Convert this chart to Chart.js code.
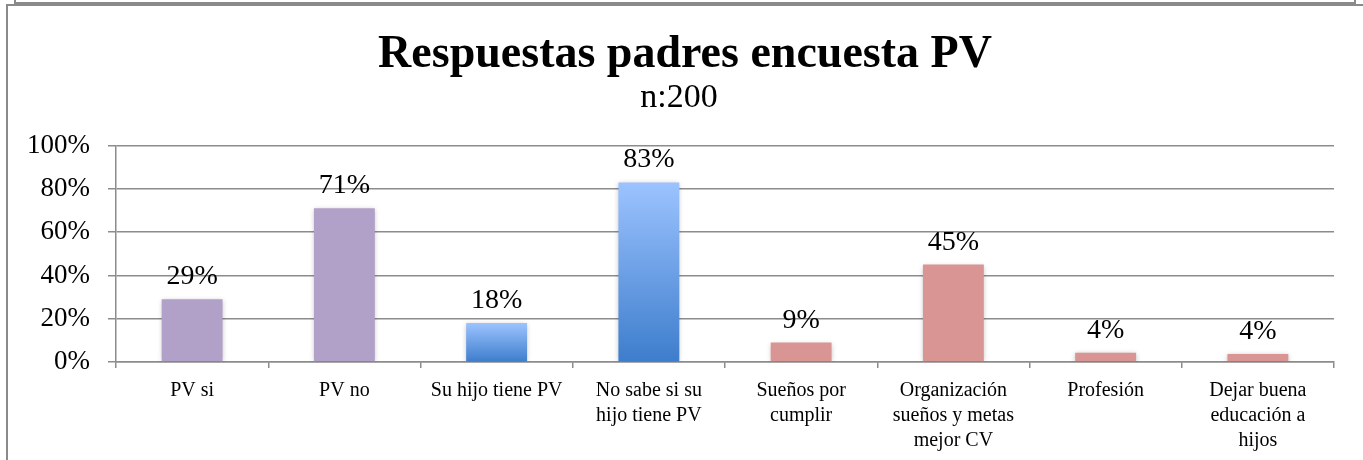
<!DOCTYPE html>
<html>
<head>
<meta charset="utf-8">
<script src="https://cdn.jsdelivr.net/npm/chart.js@4/dist/chart.umd.min.js"></script>
<style>
  html, body { margin: 0; padding: 0; background: #fff; }
  body { width: 1363px; height: 460px; position: relative; overflow: hidden; }
  .prevBox { position: absolute; left: 14px; top: -20px; width: 1338px; height: 20px;
             border: 2px solid #8a8a8a; }
  .frame { position: absolute; left: 6px; top: 4px; width: 1400px; height: 500px;
           border-left: 2px solid #8a8a8a; border-top: 2px solid #8a8a8a; }
  #chartPV { position: absolute; left: 0; top: 0; }
</style>
</head>
<body>
<div class="prevBox"></div>
<div class="frame"></div>
<canvas id="chartPV" width="1363" height="460"></canvas>
<script>
// Data
const categories = [
  'PV si',
  'PV no',
  'Su hijo tiene PV',
  ['No sabe si su', 'hijo tiene PV'],
  ['Sueños por', 'cumplir'],
  ['Organización', 'sueños y metas', 'mejor CV'],
  'Profesión',
  ['Dejar buena', 'educación a', 'hijos']
];
const values = [29, 71, 18, 83, 9, 45, 4.3, 3.7];     // percent
const groups = ['purple', 'purple', 'blue', 'blue', 'pink', 'pink', 'pink', 'pink'];
const yTicks = [0, 20, 40, 60, 80, 100];

const gridColor = '#8c8c8c',
      purple = '#b1a0c7',
      pink = '#d99594',
      blueTop = '#9cc3ff',
      blueBottom = '#3d7dcc',
      fontFam = "'Liberation Serif', 'DejaVu Serif', serif";

// Bar colour: blue bars get a vertical gradient over their own height
function barColor(ctx) {
  const g = groups[ctx.dataIndex];
  if (g === 'purple') return purple;
  if (g === 'pink') return pink;
  const chart = ctx.chart;
  if (!chart.chartArea) return blueBottom;
  const y = chart.scales.y;
  const top = y.getPixelForValue(values[ctx.dataIndex]);
  const base = y.getPixelForValue(0);
  const grad = chart.ctx.createLinearGradient(0, top, 0, base);
  grad.addColorStop(0, blueTop);
  grad.addColorStop(1, blueBottom);
  return grad;
}

// Soft shadow under the bars
const barShadow = {
  id: 'barShadow',
  beforeDatasetsDraw(chart) {
    const c = chart.ctx;
    c.save();
    c.shadowColor = 'rgba(0,0,0,0.25)';
    c.shadowBlur = 5;
    c.shadowOffsetX = 0;
    c.shadowOffsetY = 1;
  },
  afterDatasetsDraw(chart) {
    chart.ctx.restore();
  }
};

// Title sits a little right of the page centre in the original
const titleShift = {
  id: 'titleShift',
  afterLayout(chart) {
    if (chart.titleBlock) chart.titleBlock.left += 12;
  }
};

// Percent labels over each bar
const valueLabels = {
  id: 'valueLabels',
  afterDatasetsDraw(chart) {
    const c = chart.ctx;
    const meta = chart.getDatasetMeta(0);
    c.save();
    c.font = "28px " + fontFam;
    c.fillStyle = '#000';
    c.textAlign = 'center';
    c.textBaseline = 'alphabetic';
    meta.data.forEach((bar, i) => {
      c.fillText(Math.round(values[i]) + '%', bar.x, bar.y - 15);
    });
    c.restore();
  }
};

new Chart(document.getElementById('chartPV'), {
  type: 'bar',
  data: {
    labels: categories,
    datasets: [{
      data: values,
      backgroundColor: barColor,
      borderWidth: 0,
      categoryPercentage: 0.8,
      barPercentage: 0.5
    }]
  },
  plugins: [barShadow, valueLabels, titleShift],
  options: {
    responsive: false,
    animation: false,
    devicePixelRatio: 1,
    layout: { padding: { left: 24, right: 29, top: 0, bottom: 0 } },
    plugins: {
      legend: { display: false },
      tooltip: { enabled: false },
      title: {
        display: true,
        text: 'Respuestas padres encuesta PV',
        color: '#000',
        font: { family: fontFam, size: 46, weight: 'bold', lineHeight: 1.1 },
        padding: { top: 30, bottom: 0 }
      },
      subtitle: {
        display: true,
        text: 'n:200',
        color: '#000',
        font: { family: fontFam, size: 34, lineHeight: 1.0 },
        padding: { top: 0, bottom: 31 }
      }
    },
    scales: {
      y: {
        min: 0,
        max: 100,
        afterBuildTicks(axis) { axis.ticks = yTicks.map(v => ({ value: v })); },
        afterFit(scale) { scale.width = 92; },
        ticks: {
          color: '#000',
          padding: 18,
          font: { family: fontFam, size: 27 },
          callback: v => v + '%'
        },
        grid: { color: gridColor, lineWidth: 1.5, tickLength: 8 },
        border: { display: true, color: gridColor, width: 1.5 }
      },
      x: {
        afterFit(scale) { scale.height = 98; },
        ticks: {
          color: '#000',
          padding: 10,
          autoSkip: false,
          maxRotation: 0,
          font: { family: fontFam, size: 20, lineHeight: 1.25 }
        },
        grid: { offset: true, drawOnChartArea: false, color: gridColor, lineWidth: 1.5, tickLength: 6 },
        border: { display: true, color: gridColor, width: 1.5 }
      }
    }
  }
});
</script>
</body>
</html>
